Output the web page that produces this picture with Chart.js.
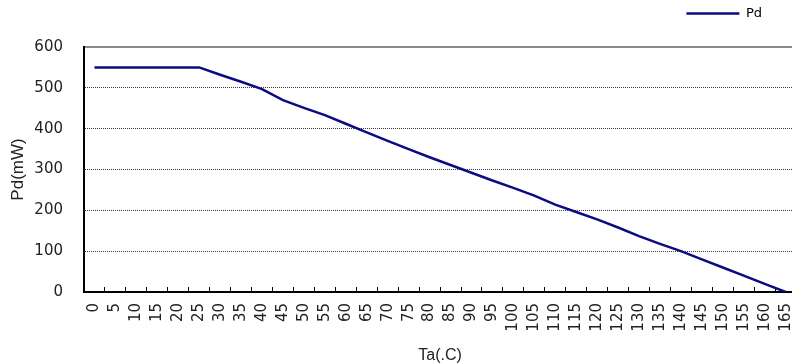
<!DOCTYPE html>
<html>
<head>
<meta charset="utf-8">
<script src="https://cdn.jsdelivr.net/npm/chart.js@4/dist/chart.umd.min.js"></script>
<style>
  html, body { margin: 0; padding: 0; background: #fff; overflow: hidden; }
  #wrap { width: 820px; height: 364px; }
</style>
</head>
<body>
<div id="wrap"><canvas id="c" width="820" height="364"></canvas></div>
<script>
// Ambient temperature categories (°C)
const temperatures = ['0','5','10','15','20','25','30','35','40','45','50','55','60','65','70','75','80','85','90','95','100','105','110','115','120','125','130','135','140','145','150','155','160','165'];
// Power dissipation (mW) at each temperature
const pdValues = [550,550,550,550,550,550,532,515,497,470,451,433,412,391,370,350,330,311,292,273,255,236,214,196,178,158,137,118,100,80,60,40,20,0];
// Y axis range and step
const yTicks = [0,100,200,300,400,500,600];

const tickFont = { family: 'DejaVu Sans', size: 15 };
const titleFont = { family: 'Liberation Sans', size: 17 };

// Moves the legend left of the canvas edge
const LEGEND_SHIFT = 51;
const legendShift = {
  id: 'legendShift',
  afterLayout(chart) {
    const lg = chart.legend;
    if (lg) { lg.left -= LEGEND_SHIFT; lg.right -= LEGEND_SHIFT; }
  }
};

new Chart(document.getElementById('c'), {
  type: 'line',
  data: {
    labels: temperatures,
    datasets: [{
      label: 'Pd',
      data: pdValues,
      xAxisID: 'x',
      yAxisID: 'y',
      borderColor: '#0c0c82',
      backgroundColor: '#0c0c82',
      borderWidth: 2.5,
      pointRadius: 0,
      tension: 0,
      fill: false
    }]
  },
  options: {
    responsive: false,
    animation: false,
    devicePixelRatio: 1,
    layout: { padding: 0 },
    plugins: {
      tooltip: { enabled: false },
      legend: {
        position: 'top',
        align: 'end',
        labels: {
          usePointStyle: true,
          pointStyle: 'line',
          pointStyleWidth: 53,
          padding: 7,
          color: '#000',
          font: { family: 'DejaVu Sans', size: 13 }
        }
      }
    },
    scales: {
      x: {
        type: 'category',
        position: 'bottom',
        offset: true,
        grid: {
          drawOnChartArea: false,
          offset: true,
          drawTicks: true,
          tickLength: -5,
          tickColor: '#000',
          tickWidth: 1
        },
        border: { color: '#000', width: 2 },
        ticks: {
          autoSkip: false,
          minRotation: 90,
          maxRotation: 90,
          padding: 16,
          color: '#222',
          font: tickFont
        },
        title: {
          display: true,
          text: 'Ta(.C)',
          color: '#222',
          font: { family: 'Liberation Sans', size: 16, lineHeight: 1 },
          padding: { top: 0, bottom: 0 }
        },
        afterFit(scale) { scale.height = 72; }
      },
      xTop: {
        type: 'category',
        position: 'top',
        labels: temperatures,
        offset: true,
        grid: { drawOnChartArea: false, drawTicks: false },
        border: { color: '#8a8a8a', width: 2 },
        ticks: { display: false },
        afterFit(scale) { scale.height = 17; }
      },
      y: {
        min: yTicks[0],
        max: yTicks[yTicks.length - 1],
        afterBuildTicks(scale) { scale.ticks = yTicks.map(v => ({ value: v })); },
        grid: {
          drawTicks: false,
          lineWidth: 1,
          color: ctx => (ctx.tick && (ctx.tick.value === 0 || ctx.tick.value === 600)) ? 'rgba(0,0,0,0)' : '#3a3a3a'
        },
        border: { color: '#000', width: 2, dash: [1, 1] },
        ticks: {
          padding: 21,
          color: '#222',
          font: tickFont
        },
        title: {
          display: true,
          text: 'Pd(mW)',
          color: '#222',
          font: titleFont,
          padding: { top: 8, bottom: 0 }
        },
        afterFit(scale) { scale.width = 84; }
      }
    }
  },
  plugins: [legendShift]
});
</script>
</body>
</html>
